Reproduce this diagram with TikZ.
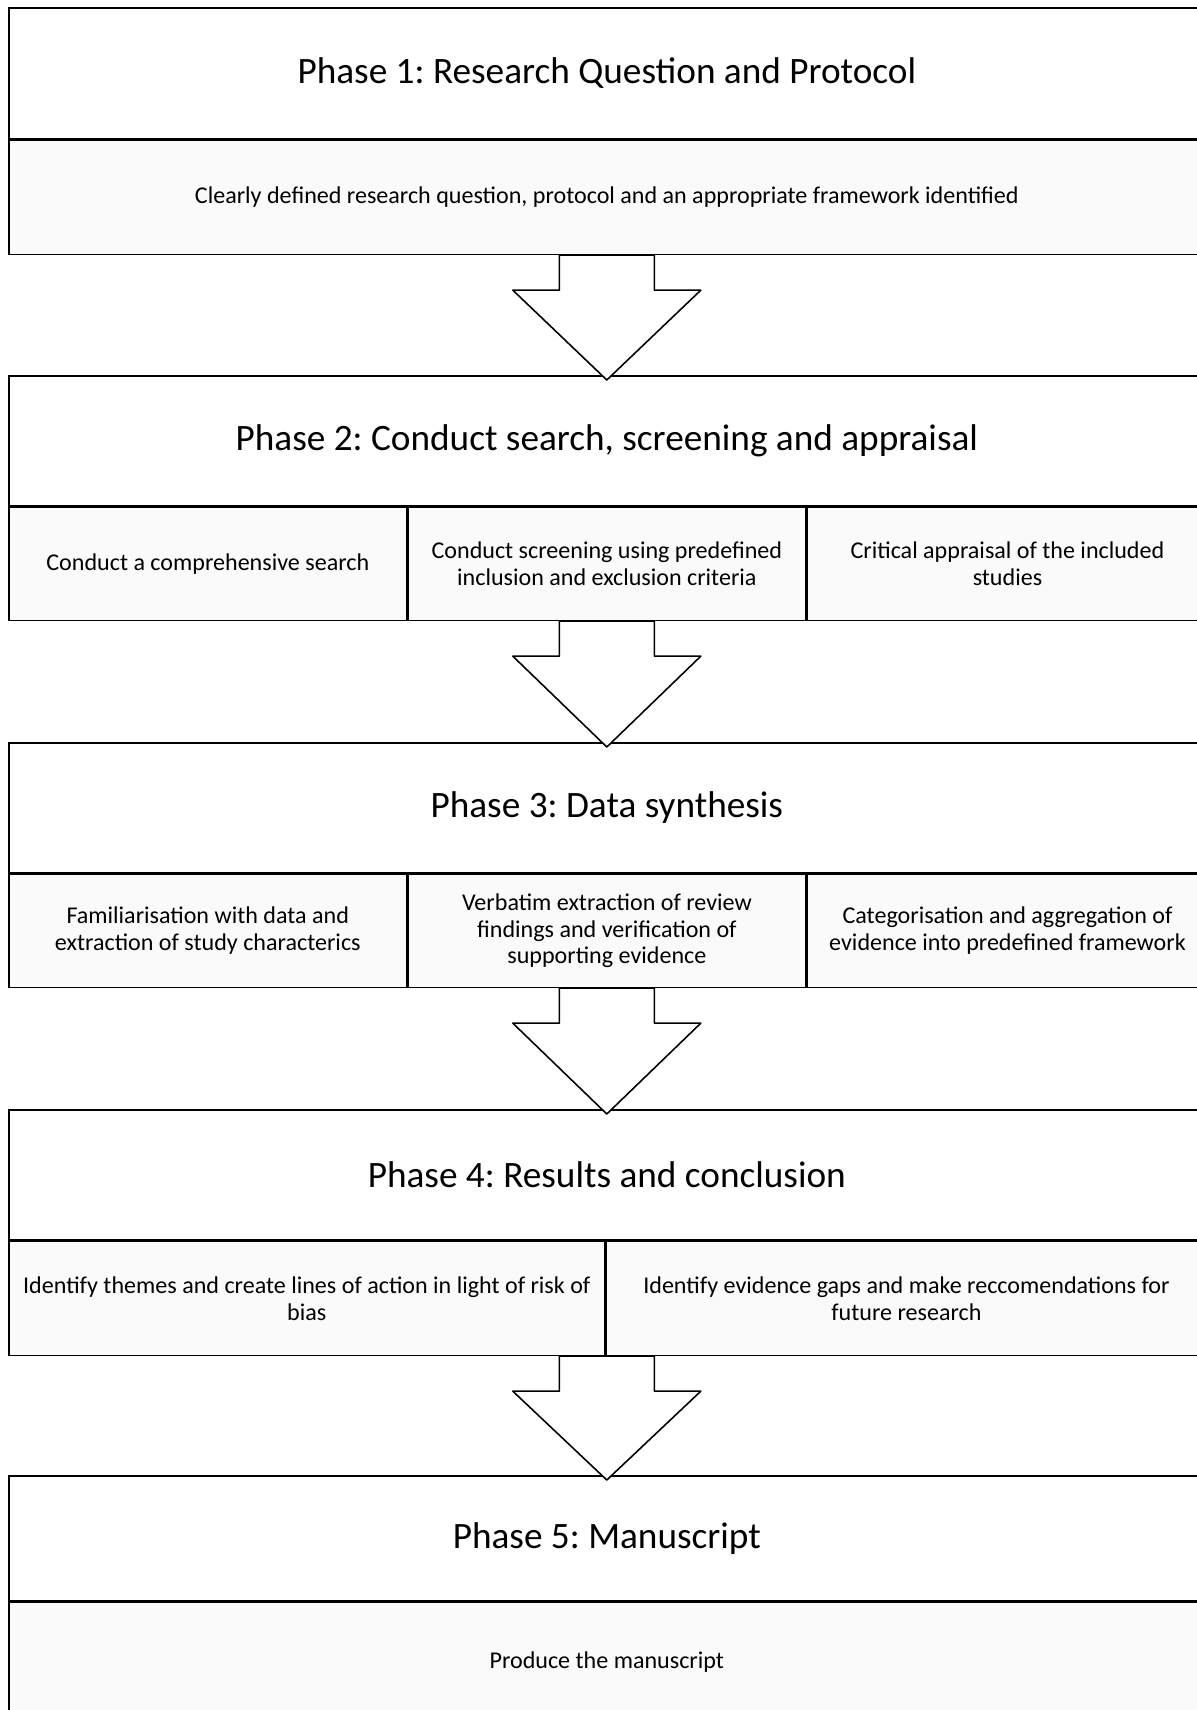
\documentclass[tikz,border=0pt]{standalone}
\usepackage{fontspec}
\setmainfont{Carlito}
\frenchspacing
\usetikzlibrary{calc}
\definecolor{cellgray}{RGB}{250,250,250}

\newcommand{\phasearrow}[2]{%
  \draw[blockarrow] ($(#1)+(-47.5,0)$) -- ++(0,35) -- ++(-46.5,0)
    -- ($(#2.north)+(0,5)$) -- ($(#1)+(94,35)$) -- ++(-46.5,0) -- ++(0,-35) -- cycle;
}

\begin{document}
\begin{tikzpicture}[x=0.2mm,y=-0.2mm,
  phasehead/.style={draw=black,line width=0.9pt,fill=white,anchor=north west,
    minimum width=23.92cm,inner sep=0pt,font=\fontsize{21.2}{25}\selectfont},
  phasecell/.style={draw=black,line width=0.9pt,fill=cellgray,anchor=north west,
    inner sep=0pt,align=center,font=\fontsize{13.7}{15.2}\selectfont},
  blockarrow/.style={draw=black,line width=0.9pt,fill=white,line join=round}]

	\useasboundingbox (0,0) rectangle (1197,1710);

	% Phase 1
	\node[phasehead,minimum height=2.62cm] (h1) at (8,7) {Phase 1: Research Question and Protocol};
	\node[phasecell,minimum width=23.92cm,minimum height=2.28cm] (s1) at (h1.south west)
		{Clearly defined research question, protocol and an appropriate framework identified};

	% Phase 2
	\node[phasehead,minimum height=2.60cm] (h2) at (8,375) {Phase 2: Conduct search, screening and appraisal};
	\node[phasecell,minimum width=7.96cm,minimum height=2.26cm] (s2a) at (h2.south west)
		{Conduct a comprehensive search};
	\node[phasecell,minimum width=7.94cm,minimum height=2.26cm] (s2b) at (s2a.north east)
		{Conduct screening using predefined\\inclusion and exclusion criteria};
	\node[phasecell,minimum width=8.02cm,minimum height=2.26cm] (s2c) at (s2b.north east)
		{Critical appraisal of the included\\studies};

	% Phase 3
	\node[phasehead,minimum height=2.60cm] (h3) at (8,742) {Phase 3: Data synthesis};
	\node[phasecell,minimum width=7.96cm,minimum height=2.26cm] (s3a) at (h3.south west)
		{Familiarisation with data and\\extraction of study characterics};
	\node[phasecell,minimum width=7.94cm,minimum height=2.26cm] (s3b) at (s3a.north east)
		{Verbatim extraction of review\\findings and verification of\\supporting evidence};
	\node[phasecell,minimum width=8.02cm,minimum height=2.26cm] (s3c) at (s3b.north east)
		{Categorisation and aggregation of\\evidence into predefined framework};

	% Phase 4
	\node[phasehead,minimum height=2.60cm] (h4) at (8,1109) {Phase 4: Results and conclusion};
	\node[phasecell,minimum width=11.92cm,minimum height=2.28cm] (s4a) at (h4.south west)
		{Identify themes and create lines of action in light of risk of\\bias};
	\node[phasecell,minimum width=12.00cm,minimum height=2.28cm] (s4b) at (s4a.north east)
		{Identify evidence gaps and make reccomendations for\\future research};

	% Phase 5
	\node[phasehead,minimum height=2.50cm] (h5) at (8,1475) {Phase 5: Manuscript};
	\node[phasecell,minimum width=23.92cm,minimum height=2.40cm] (s5) at (h5.south west)
		{Produce the manuscript};

	% arrows between phases
	\coordinate (a1) at (h1.center |- s1.south);
	\coordinate (a2) at (h2.center |- s2b.south);
	\coordinate (a3) at (h3.center |- s3b.south);
	\coordinate (a4) at (h4.center |- s4a.south);
	\phasearrow{a1}{h2}
	\phasearrow{a2}{h3}
	\phasearrow{a3}{h4}
	\phasearrow{a4}{h5}

\end{tikzpicture}
\end{document}
